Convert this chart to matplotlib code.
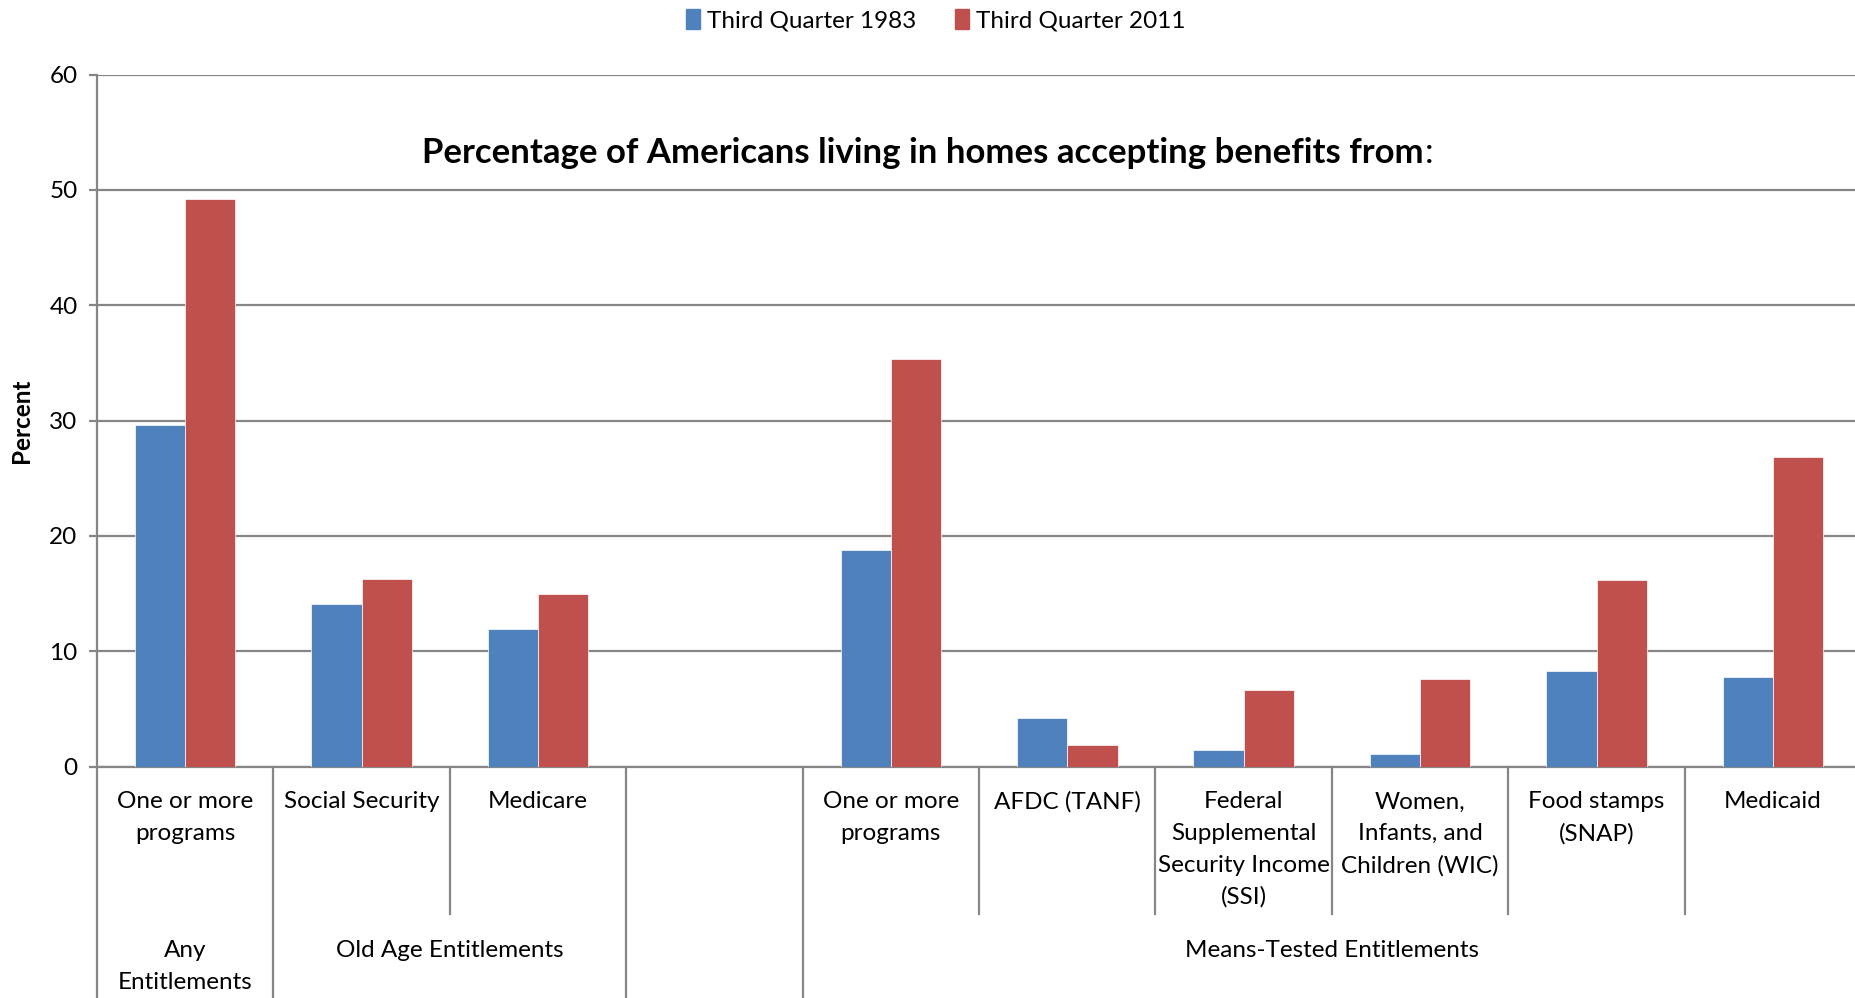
import numpy as np
import matplotlib.pyplot as plt
from matplotlib.patches import Patch

plt.rcParams['font.family'] = ['Lato', 'DejaVu Sans']

# categories (slot 3 is an empty spacer in the original chart)
categories = ["One or more\nprograms", "Social Security", "Medicare", "",
              "One or more\nprograms", "AFDC (TANF)",
              "Federal\nSupplemental\nSecurity Income\n(SSI)",
              "Women,\nInfants, and\nChildren (WIC)", "Food stamps\n(SNAP)", "Medicaid"]
q3_1983 = [29.6, 14.1, 11.9, np.nan, 18.8, 4.2, 1.4, 1.1, 8.3, 7.8]
q3_2011 = [49.2, 16.3, 15.0, np.nan, 35.3, 1.9, 6.6, 7.6, 16.2, 26.8]

# group labels: (first slot, last slot, text)
groups = [(0, 0, "Any\nEntitlements"), (1, 2, "Old Age Entitlements"),
          (3, 3, ""), (4, 9, "Means-Tested Entitlements")]

blue = '#4F81BD'
red = '#C0504D'
grid_col = '#868686'

fig = plt.figure(figsize=(18.55, 9.98), dpi=100)
ax = fig.add_axes([0.0523, 0.2319, 0.951, 0.6934])

x = np.arange(len(categories))
w = 0.285
ax.bar(x - w / 2, q3_1983, w, color=blue, edgecolor='white', linewidth=0.5, zorder=3)
ax.bar(x + w / 2, q3_2011, w, color=red, edgecolor='white', linewidth=0.5, zorder=3)

ax.set_xlim(-0.5, len(categories) - 0.5)
ax.set_ylim(0, 60)
ax.set_yticks(range(0, 61, 10))
ax.yaxis.grid(True, color=grid_col, linewidth=1.6, zorder=0)
ax.tick_params(axis='y', length=6, width=1.6, color=grid_col, labelsize=17.5, pad=8)
ax.set_xticks([])
for s in ['top', 'right']:
    ax.spines[s].set_visible(False)
ax.spines['left'].set_color(grid_col)
ax.spines['left'].set_linewidth(1.6)
ax.spines['bottom'].set_color(grid_col)
ax.spines['bottom'].set_linewidth(1.6)
ax.set_ylabel("Percent", fontsize=17.5, fontweight='bold', labelpad=12)

trans = ax.get_xaxis_transform()
# separator lines below the axis
long_seps = [-0.5] + [g[1] + 0.5 for g in groups]
for i in range(len(categories) + 1):
    xs = i - 0.5
    y_end = -0.5 if xs in long_seps else -0.213
    ax.plot([xs, xs], [0, y_end], transform=trans, color=grid_col,
            linewidth=1.6, clip_on=False)

# category labels
for xi, lab in zip(x, categories):
    ax.text(xi, -0.036, lab, transform=trans, ha='center', va='top',
            fontsize=17.5, linespacing=1.62)

# group labels
for a, b, lab in groups:
    ax.text((a + b) / 2, -0.251, lab, transform=trans, ha='center', va='top',
            fontsize=17.5, linespacing=1.62)

# title: bold text and a regular colon
t = fig.text(0.4976, 0.847, "Percentage of Americans living in homes accepting benefits from",
             ha='center', va='center', fontsize=25, fontweight='bold')
ax.annotate(":", xy=(1, 0), xycoords=t, xytext=(1, 0), textcoords='offset points',
            ha='left', va='bottom', fontsize=25)

handles = [Patch(color=blue, label="Third Quarter 1983"),
           Patch(color=red, label="Third Quarter 2011")]
fig.legend(handles=handles, loc='center', bbox_to_anchor=(0.5045, 0.98), ncol=2,
           frameon=False, fontsize=17.5, handlelength=0.55, handleheight=0.9,
           handletextpad=0.3, columnspacing=1.6)

fig.savefig("out.png", dpi=100)
